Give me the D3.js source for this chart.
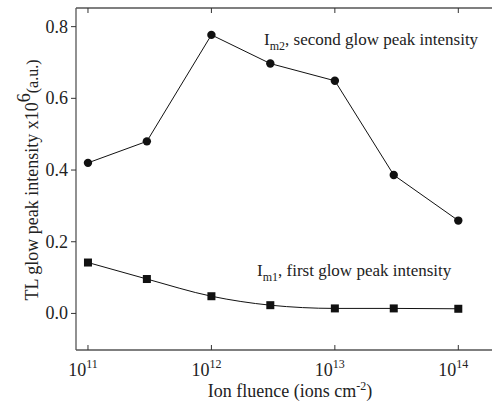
<!DOCTYPE html>
<html>
<head>
<meta charset="utf-8">
<script src="https://cdn.jsdelivr.net/npm/d3@7"></script>
<style>
  body { margin: 0; background: #fff; }
</style>
</head>
<body>
<div id="chart"></div>
<script>
// data
var fluence = [1e11, 3e11, 1e12, 3e12, 1e13, 3e13, 1e14];
var im2 = [0.42, 0.48, 0.777, 0.697, 0.649, 0.386, 0.259];
var im1 = [0.142, 0.096, 0.048, 0.023, 0.014, 0.014, 0.013];
var xTicks = [1e11, 1e12, 1e13, 1e14];
var yTicks = [0.0, 0.2, 0.4, 0.6, 0.8];

var W = 492, H = 410;
var svg = d3.select("#chart").append("svg")
  .attr("width", W).attr("height", H)
  .attr("font-family", "Liberation Serif, serif")
  .attr("fill", "#222");

var pLeft = 76, pTop = 8, pBottom = 350, pRight = 492;

var x = d3.scaleLog()
  .domain([Math.pow(10, 10.903), Math.pow(10, 14.273)])
  .range([pLeft, pRight]);
var y = d3.scaleLinear()
  .domain([-0.102, 0.852])
  .range([pBottom, pTop]);

var axisColor = "#555";

// frame lines (no right border in the picture)
svg.append("line").attr("x1", pLeft).attr("x2", pRight).attr("y1", pBottom).attr("y2", pBottom)
  .attr("stroke", axisColor).attr("stroke-width", 1.3);
svg.append("line").attr("x1", pLeft).attr("x2", pRight).attr("y1", pTop).attr("y2", pTop)
  .attr("stroke", axisColor).attr("stroke-width", 1.3);
svg.append("line").attr("x1", pLeft).attr("x2", pLeft).attr("y1", pTop).attr("y2", pBottom)
  .attr("stroke", axisColor).attr("stroke-width", 1.3);

// x ticks, inward on bottom and top
xTicks.forEach(function(t) {
  svg.append("line").attr("x1", x(t)).attr("x2", x(t)).attr("y1", pBottom).attr("y2", pBottom - 5)
    .attr("stroke", "#333").attr("stroke-width", 1);
  svg.append("line").attr("x1", x(t)).attr("x2", x(t)).attr("y1", pTop).attr("y2", pTop + 5)
    .attr("stroke", "#333").attr("stroke-width", 1);
  var lab = svg.append("text").attr("x", x(t) - 5).attr("y", 376)
    .attr("text-anchor", "middle").attr("font-size", 18);
  lab.append("tspan").text("10");
  lab.append("tspan").attr("dy", -8).attr("font-size", 12).text(Math.round(Math.log10(t)));
});

// y ticks, outward on the left
yTicks.forEach(function(t) {
  svg.append("line").attr("x1", pLeft).attr("x2", pLeft - 5).attr("y1", y(t)).attr("y2", y(t))
    .attr("stroke", "#333").attr("stroke-width", 1);
  svg.append("text").attr("x", pLeft - 8).attr("y", y(t) + 6)
    .attr("text-anchor", "end").attr("font-size", 18).text(t.toFixed(1));
});

// axis titles
var xt = svg.append("text").attr("x", 290).attr("y", 397)
  .attr("text-anchor", "middle").attr("font-size", 18);
xt.append("tspan").text("Ion fluence (ions cm");
xt.append("tspan").attr("dy", -7).attr("font-size", 12).text("-2");
xt.append("tspan").attr("dy", 7).text(")");

var yt = svg.append("text").attr("transform", "translate(38," + 180 + ") rotate(-90)")
  .attr("text-anchor", "middle").attr("font-size", 18);
yt.append("tspan").text("TL glow peak intensity x10");
yt.append("tspan").attr("dy", -8).attr("font-size", 18).text("6");
yt.append("tspan").attr("dy", 8).attr("font-size", 16).text("(a.u.)");

// series
var pts2 = fluence.map(function(f, i) { return [x(f), y(im2[i])]; });
var pts1 = fluence.map(function(f, i) { return [x(f), y(im1[i])]; });

svg.append("path").attr("d", d3.line()(pts2))
  .attr("fill", "none").attr("stroke", "#111").attr("stroke-width", 1);
svg.append("path").attr("d", d3.line().curve(d3.curveMonotoneX)(pts1))
  .attr("fill", "none").attr("stroke", "#111").attr("stroke-width", 1);

svg.selectAll("circle.m2").data(pts2).enter().append("circle")
  .attr("class", "m2").attr("cx", function(d) { return d[0]; }).attr("cy", function(d) { return d[1]; })
  .attr("r", 4.2).attr("fill", "#111");
svg.selectAll("rect.m1").data(pts1).enter().append("rect")
  .attr("class", "m1").attr("x", function(d) { return d[0] - 4; }).attr("y", function(d) { return d[1] - 4; })
  .attr("width", 8).attr("height", 8).attr("fill", "#111");

// annotations
var a2 = svg.append("text").attr("x", 264).attr("y", 45).attr("font-size", 17);
a2.append("tspan").text("I");
a2.append("tspan").attr("dy", 5).attr("font-size", 12).text("m2");
a2.append("tspan").attr("dy", -5).text(", second glow peak intensity");

var a1 = svg.append("text").attr("x", 257).attr("y", 276).attr("font-size", 17);
a1.append("tspan").text("I");
a1.append("tspan").attr("dy", 5).attr("font-size", 12).text("m1");
a1.append("tspan").attr("dy", -5).text(", first glow peak intensity");
</script>
</body>
</html>
